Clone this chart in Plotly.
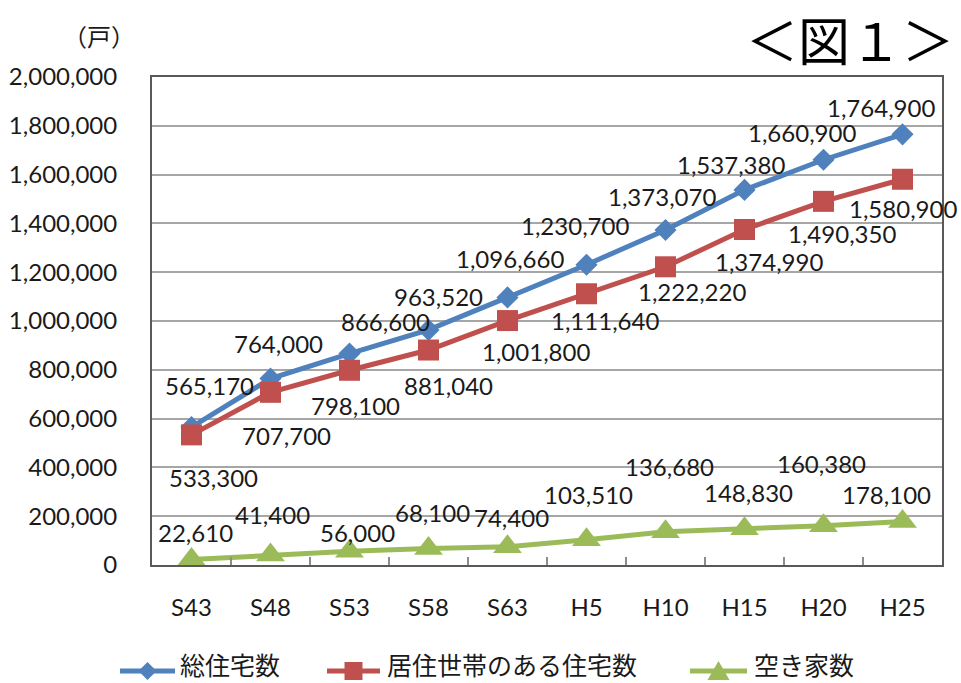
import plotly.graph_objects as go

# Survey years (Showa / Heisei)
years = ["S43", "S48", "S53", "S58", "S63", "H5", "H10", "H15", "H20", "H25"]

# Housing counts (戸)
total_homes = [565170, 764000, 866600, 963520, 1096660, 1230700, 1373070, 1537380, 1660900, 1764900]
occupied_homes = [533300, 707700, 798100, 881040, 1001800, 1111640, 1222220, 1374990, 1490350, 1580900]
vacant_homes = [22610, 41400, 56000, 68100, 74400, 103510, 136680, 148830, 160380, 178100]

series_names = ["総住宅数", "居住世帯のある住宅数", "空き家数"]

# Label placement relative to each marker, in pixels (dx right, dy up)
total_label_offsets = [(18, 42), (8, 35), (36, 32), (10, 33), (2, 39), (-12, 39), (-4, 33), (-14, 25), (-22, 27), (-22, 27)]
occupied_label_offsets = [(22, -43), (16, -43), (6, -35), (20, -35), (28, -31), (18, -27), (26, -25), (24, -32), (18, -32), (0, -29)]
vacant_label_offsets = [(4, 27), (2, 40), (8, 19), (4, 36), (4, 29), (2, 45), (4, 65), (4, 36), (-2, 62), (-16, 27)]

BLUE = "#4F81BD"
RED = "#C0504D"
GREEN = "#9BBB59"
NUM_FONT = "Lato, sans-serif"
NUM_SIZE = 24
JP_FONT = "Noto Sans CJK JP, sans-serif"
TEXT_COLOR = "#1a1a1a"

W, H = 961, 683
ML, MR, MT, MB = 152, 19, 77, 118
PW, PH = W - ML - MR, H - MT - MB


def px_to_paper(px, py):
    return (px - ML) / PW, (H - MB - py) / PH


fig = go.Figure()

series = [
    (total_homes, BLUE, "diamond", 17, total_label_offsets),
    (occupied_homes, RED, "square", 21, occupied_label_offsets),
    (vacant_homes, GREEN, "triangle-up", 25, vacant_label_offsets),
]

for (values, color, symbol, msize, offsets), name in zip(series, series_names):
    fig.add_trace(go.Scatter(
        x=years, y=values, name=name, mode="lines+markers",
        line=dict(color=color, width=5),
        marker=dict(symbol=symbol, size=msize, color=color, line=dict(width=0)),
        cliponaxis=False, showlegend=False,
    ))
    for x, v, (dx, dy) in zip(years, values, offsets):
        fig.add_annotation(
            x=x, y=v, xref="x", yref="y", text=f"{v:,}", showarrow=False,
            xshift=dx, yshift=dy, xanchor="center", yanchor="middle",
            font=dict(family=NUM_FONT, size=NUM_SIZE, color=TEXT_COLOR),
        )

# Legend drawn below the plot: line key, marker key and label
legend_items = [
    (series_names[0], BLUE, (120, 175), 178, "M -9,0 L 0,9 L 9,0 L 0,-9 Z"),
    (series_names[1], RED, (327, 380), 385, "M -9,-9 L 9,-9 L 9,9 L -9,9 Z"),
    (series_names[2], GREEN, (690, 747), 752, "M 0,10 L 11,-9 L -11,-9 Z"),
]
key_y = 671
for name, color, (x0, x1), tx, path in legend_items:
    px0, py = px_to_paper(x0, key_y)
    px1, _ = px_to_paper(x1, key_y)
    fig.add_shape(type="line", xref="paper", yref="paper", x0=px0, x1=px1, y0=py, y1=py,
                  line=dict(color=color, width=5))
    cx, _ = px_to_paper((x0 + x1) / 2, key_y)
    fig.add_shape(type="path", xref="paper", yref="paper", xsizemode="pixel", ysizemode="pixel",
                  xanchor=cx, yanchor=py, path=path, fillcolor=color, line=dict(width=0))
    lx, ly = px_to_paper(tx, 664)
    fig.add_annotation(x=lx, y=ly, xref="paper", yref="paper", text=name, showarrow=False,
                       xanchor="left", yanchor="middle",
                       font=dict(family=JP_FONT, size=25, color=TEXT_COLOR))

# Unit label and figure number
ux, uy = px_to_paper(99, 36)
fig.add_annotation(x=ux, y=uy, xref="paper", yref="paper", text="（戸）", showarrow=False,
                   xanchor="center", yanchor="middle",
                   font=dict(family=JP_FONT, size=24, color=TEXT_COLOR))
tx, ty = px_to_paper(956, 38)
fig.add_annotation(x=tx, y=ty, xref="paper", yref="paper", text="＜図１＞", showarrow=False,
                   xanchor="right", yanchor="middle",
                   font=dict(family=JP_FONT, size=52, color="#000000"))

fig.update_layout(
    width=W, height=H,
    margin=dict(l=ML, r=MR, t=MT, b=MB, autoexpand=False),
    paper_bgcolor="white", plot_bgcolor="white",
    showlegend=False,
    xaxis=dict(
        type="category", range=[-0.5, len(years) - 0.5], automargin=False,
        tickson="boundaries", ticks="inside", ticklen=8, tickcolor="#8c8c8c", tickwidth=1.5,
        showgrid=False, showline=True, linecolor="#595959", linewidth=2, mirror=True,
        tickfont=dict(family=NUM_FONT, size=NUM_SIZE, color=TEXT_COLOR),
        ticklabelstandoff=20, zeroline=False,
    ),
    yaxis=dict(
        range=[0, 2000000], tickvals=list(range(0, 2000001, 200000)), tickformat=",d",
        automargin=False,
        showgrid=True, gridcolor="#a6a6a6", gridwidth=1.5,
        showline=True, linecolor="#595959", linewidth=2, mirror=True,
        ticks="", tickfont=dict(family=NUM_FONT, size=NUM_SIZE, color=TEXT_COLOR),
        ticklabelstandoff=28, zeroline=False,
    ),
)

fig.write_html("out.html")
